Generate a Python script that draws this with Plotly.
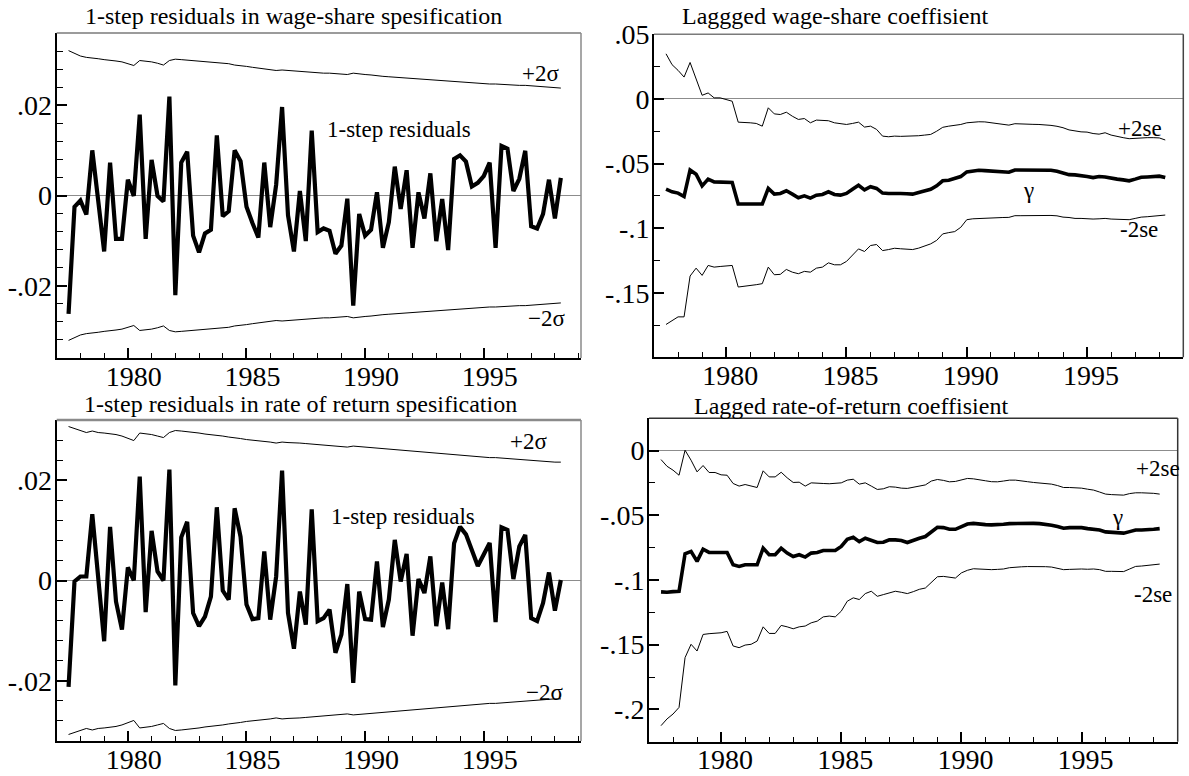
import plotly.graph_objects as go

W, H = 1189, 776
N = 84
# quarterly observations 1977Q3 .. 1998Q2
years = [1977.5 + 0.25 * i for i in range(N)]

# ---- wage-share specification: 1-step residuals and 2*sigma band ----
resid_ws = [-0.0262, -0.0025, -0.0011, -0.0042, 0.0100, -0.0012, -0.0124, 0.0073, -0.0096, -0.0096,
            0.0035, -0.0001, 0.0179, -0.0096, 0.0079, -0.0001, -0.0013, 0.0219, -0.0221, 0.0073,
            0.0097, -0.0089, -0.0126, -0.0084, -0.0076, 0.0133, -0.0046, -0.0035, 0.0100, 0.0076,
            -0.0025, -0.0061, -0.0093, 0.0073, -0.0070, 0.0024, 0.0196, -0.0044, -0.0124, 0.0010,
            -0.0101, 0.0144, -0.0081, -0.0073, -0.0078, -0.0129, -0.0111, -0.0007, -0.0244, -0.0041,
            -0.0089, -0.0076, 0.0007, -0.0116, -0.0059, 0.0064, -0.0030, 0.0056, -0.0116, 0.0007,
            -0.0051, 0.0049, -0.0101, -0.0008, -0.0121, 0.0081, 0.0089, 0.0075, 0.0020, 0.0028,
            0.0043, 0.0073, -0.0116, 0.0110, 0.0104, 0.0010, 0.0037, 0.0099, -0.0068, -0.0073,
            -0.0041, 0.0035, -0.0051, 0.0039]
band_ws = [0.0321, 0.0315, 0.0309, 0.0306, 0.0305, 0.0303, 0.0301, 0.0300, 0.0298, 0.0296,
           0.0292, 0.0288, 0.0299, 0.0298, 0.0296, 0.0293, 0.0289, 0.0299, 0.0302, 0.0301,
           0.0300, 0.0299, 0.0298, 0.0297, 0.0296, 0.0294, 0.0293, 0.0292, 0.0289, 0.0288,
           0.0286, 0.0284, 0.0282, 0.0281, 0.0279, 0.0277, 0.0278, 0.0277, 0.0275, 0.0274,
           0.0273, 0.0273, 0.0272, 0.0271, 0.0271, 0.0270, 0.0269, 0.0268, 0.0271, 0.0269,
           0.0268, 0.0267, 0.0265, 0.0264, 0.0263, 0.0262, 0.0261, 0.0260, 0.0259, 0.0258,
           0.0257, 0.0256, 0.0255, 0.0254, 0.0254, 0.0253, 0.0252, 0.0251, 0.0250, 0.0249,
           0.0248, 0.0247, 0.0247, 0.0246, 0.0246, 0.0245, 0.0244, 0.0244, 0.0243, 0.0242,
           0.0241, 0.0240, 0.0239, 0.0238]

# ---- rate-of-return specification: 1-step residuals and 2*sigma band ----
resid_rr = [-0.0212, -0.0002, 0.0008, 0.0008, 0.0132, 0.0015, -0.0121, 0.0107, -0.0042, -0.0098,
            0.0026, 0.0000, 0.0207, -0.0063, 0.0099, 0.0018, 0.0000, 0.0221, -0.0209, 0.0086,
            0.0117, -0.0065, -0.0091, -0.0072, -0.0032, 0.0146, -0.0020, -0.0038, 0.0144, 0.0087,
            -0.0048, -0.0077, -0.0075, 0.0058, -0.0078, 0.0008, 0.0219, -0.0065, -0.0136, -0.0022,
            -0.0088, 0.0142, -0.0081, -0.0075, -0.0058, -0.0144, -0.0108, -0.0007, -0.0204, -0.0022,
            -0.0077, -0.0078, 0.0038, -0.0093, -0.0038, 0.0081, -0.0002, 0.0053, -0.0110, 0.0003,
            -0.0025, 0.0048, -0.0091, -0.0004, -0.0097, 0.0074, 0.0107, 0.0092, 0.0062, 0.0029,
            0.0052, 0.0075, -0.0083, 0.0106, 0.0101, 0.0003, 0.0068, 0.0091, -0.0075, -0.0081,
            -0.0045, 0.0016, -0.0060, 0.0001]
band_rr = [0.0307, 0.0303, 0.0299, 0.0295, 0.0298, 0.0295, 0.0294, 0.0293, 0.0291, 0.0288,
           0.0284, 0.0279, 0.0294, 0.0293, 0.0291, 0.0288, 0.0285, 0.0295, 0.0299, 0.0298,
           0.0297, 0.0296, 0.0294, 0.0292, 0.0291, 0.0289, 0.0288, 0.0286, 0.0285, 0.0283,
           0.0281, 0.0280, 0.0279, 0.0278, 0.0276, 0.0274, 0.0276, 0.0275, 0.0275, 0.0274,
           0.0273, 0.0272, 0.0271, 0.0270, 0.0270, 0.0269, 0.0268, 0.0266, 0.0268, 0.0267,
           0.0266, 0.0265, 0.0264, 0.0263, 0.0261, 0.0260, 0.0259, 0.0258, 0.0257, 0.0256,
           0.0255, 0.0254, 0.0253, 0.0252, 0.0251, 0.0250, 0.0249, 0.0249, 0.0248, 0.0247,
           0.0246, 0.0245, 0.0245, 0.0244, 0.0243, 0.0242, 0.0241, 0.0240, 0.0239, 0.0239,
           0.0238, 0.0237, 0.0236, 0.0236]

# ---- lagged wage-share coefficient (recursive) with +/-2se ----
gamma_ws = [-0.0699, -0.0719, -0.0729, -0.0755, -0.0550, -0.0583, -0.0673, -0.0621, -0.0642, -0.0642,
            -0.0645, -0.0647, -0.0814, -0.0814, -0.0814, -0.0814, -0.0814, -0.0693, -0.0737, -0.0732,
            -0.0711, -0.0737, -0.0765, -0.0750, -0.0768, -0.0745, -0.0740, -0.0719, -0.0740, -0.0745,
            -0.0732, -0.0699, -0.0668, -0.0704, -0.0680, -0.0693, -0.0729, -0.0732, -0.0729, -0.0732,
            -0.0734, -0.0737, -0.0724, -0.0714, -0.0699, -0.0673, -0.0634, -0.0629, -0.0616, -0.0601,
            -0.0565, -0.0555, -0.0552, -0.0555, -0.0557, -0.0560, -0.0565, -0.0568, -0.0550, -0.0550,
            -0.0547, -0.0550, -0.0550, -0.0550, -0.0552, -0.0560, -0.0575, -0.0586, -0.0588, -0.0591,
            -0.0601, -0.0609, -0.0601, -0.0604, -0.0616, -0.0621, -0.0627, -0.0634, -0.0621, -0.0606,
            -0.0604, -0.0604, -0.0598, -0.0609]
up_ws = [0.0349, 0.0265, 0.0221, 0.0169, 0.0282, 0.0149, 0.0028, 0.0046, 0.0008, 0.0008,
         -0.0005, -0.0018, -0.0180, -0.0180, -0.0185, -0.0190, -0.0211, -0.0069, -0.0116, -0.0121,
         -0.0103, -0.0134, -0.0159, -0.0152, -0.0185, -0.0164, -0.0164, -0.0169, -0.0185, -0.0190,
         -0.0198, -0.0190, -0.0180, -0.0218, -0.0211, -0.0236, -0.0288, -0.0293, -0.0288, -0.0290,
         -0.0290, -0.0288, -0.0285, -0.0280, -0.0275, -0.0250, -0.0220, -0.0211, -0.0205, -0.0198,
         -0.0185, -0.0180, -0.0177, -0.0178, -0.0185, -0.0190, -0.0195, -0.0203, -0.0192, -0.0192,
         -0.0195, -0.0197, -0.0198, -0.0200, -0.0205, -0.0212, -0.0223, -0.0240, -0.0249, -0.0255,
         -0.0257, -0.0268, -0.0273, -0.0262, -0.0280, -0.0293, -0.0300, -0.0308, -0.0305, -0.0300,
         -0.0300, -0.0300, -0.0302, -0.0318]
lo_ws = [-0.1746, -0.1713, -0.1687, -0.1687, -0.1371, -0.1310, -0.1366, -0.1289, -0.1302, -0.1297,
         -0.1294, -0.1289, -0.1456, -0.1451, -0.1443, -0.1438, -0.1430, -0.1302, -0.1361, -0.1358,
         -0.1320, -0.1341, -0.1353, -0.1335, -0.1341, -0.1310, -0.1302, -0.1269, -0.1284, -0.1284,
         -0.1258, -0.1207, -0.1161, -0.1181, -0.1135, -0.1127, -0.1174, -0.1166, -0.1156, -0.1160,
         -0.1163, -0.1166, -0.1155, -0.1140, -0.1122, -0.1095, -0.1045, -0.1035, -0.1027, -0.0994,
         -0.0935, -0.0928, -0.0925, -0.0922, -0.0920, -0.0919, -0.0918, -0.0917, -0.0904, -0.0904,
         -0.0903, -0.0902, -0.0900, -0.0899, -0.0902, -0.0905, -0.0915, -0.0918, -0.0925, -0.0925,
         -0.0928, -0.0930, -0.0928, -0.0925, -0.0930, -0.0932, -0.0935, -0.0935, -0.0925, -0.0915,
         -0.0912, -0.0909, -0.0905, -0.0899]

# ---- lagged rate-of-return coefficient (recursive) with +/-2se ----
gamma_rr = [-0.1092, -0.1095, -0.1090, -0.1087, -0.0797, -0.0779, -0.0856, -0.0762, -0.0787, -0.0785,
            -0.0787, -0.0787, -0.0882, -0.0895, -0.0882, -0.0882, -0.0882, -0.0754, -0.0805, -0.0805,
            -0.0754, -0.0792, -0.0818, -0.0805, -0.0823, -0.0792, -0.0787, -0.0772, -0.0772, -0.0772,
            -0.0741, -0.0685, -0.0669, -0.0703, -0.0677, -0.0690, -0.0710, -0.0708, -0.0690, -0.0690,
            -0.0695, -0.0710, -0.0690, -0.0677, -0.0664, -0.0626, -0.0592, -0.0595, -0.0608, -0.0608,
            -0.0587, -0.0567, -0.0562, -0.0569, -0.0572, -0.0574, -0.0574, -0.0569, -0.0564, -0.0562,
            -0.0562, -0.0562, -0.0562, -0.0564, -0.0569, -0.0577, -0.0587, -0.0600, -0.0595, -0.0592,
            -0.0595, -0.0603, -0.0608, -0.0613, -0.0628, -0.0633, -0.0633, -0.0638, -0.0626, -0.0613,
            -0.0613, -0.0613, -0.0608, -0.0603]
up_rr = [-0.0069, -0.0121, -0.0151, -0.0190, 0.0003, -0.0074, -0.0164, -0.0115, -0.0169, -0.0169,
         -0.0187, -0.0190, -0.0254, -0.0274, -0.0262, -0.0272, -0.0285, -0.0156, -0.0203, -0.0203,
         -0.0167, -0.0210, -0.0246, -0.0244, -0.0274, -0.0249, -0.0254, -0.0254, -0.0256, -0.0254,
         -0.0249, -0.0228, -0.0221, -0.0259, -0.0249, -0.0274, -0.0300, -0.0295, -0.0279, -0.0282,
         -0.0290, -0.0292, -0.0283, -0.0279, -0.0265, -0.0235, -0.0223, -0.0230, -0.0241, -0.0238,
         -0.0225, -0.0215, -0.0218, -0.0228, -0.0233, -0.0240, -0.0241, -0.0235, -0.0228, -0.0228,
         -0.0232, -0.0240, -0.0246, -0.0249, -0.0254, -0.0259, -0.0270, -0.0285, -0.0285, -0.0285,
         -0.0290, -0.0298, -0.0305, -0.0320, -0.0336, -0.0340, -0.0344, -0.0344, -0.0332, -0.0326,
         -0.0326, -0.0326, -0.0330, -0.0336]
lo_rr = [-0.2126, -0.2074, -0.2036, -0.1985, -0.1600, -0.1497, -0.1549, -0.1421, -0.1415, -0.1412,
         -0.1408, -0.1397, -0.1510, -0.1523, -0.1503, -0.1497, -0.1472, -0.1362, -0.1413, -0.1413,
         -0.1351, -0.1362, -0.1377, -0.1362, -0.1356, -0.1331, -0.1318, -0.1285, -0.1279, -0.1285,
         -0.1241, -0.1164, -0.1138, -0.1151, -0.1105, -0.1087, -0.1126, -0.1113, -0.1100, -0.1087,
         -0.1095, -0.1105, -0.1090, -0.1072, -0.1062, -0.1020, -0.0975, -0.0972, -0.0980, -0.0985,
         -0.0945, -0.0925, -0.0913, -0.0915, -0.0920, -0.0920, -0.0918, -0.0915, -0.0905, -0.0900,
         -0.0898, -0.0896, -0.0895, -0.0895, -0.0897, -0.0900, -0.0910, -0.0920, -0.0918, -0.0915,
         -0.0915, -0.0917, -0.0915, -0.0920, -0.0933, -0.0933, -0.0933, -0.0935, -0.0915, -0.0895,
         -0.0892, -0.0888, -0.0882, -0.0877]

# ---- tick labels ----
x_ticks = [1980, 1985, 1990, 1995]
x_ticktext = ["1980", "1985", "1990", "1995"]
res_ticks = [-0.02, 0.0, 0.02]
res_ticktext = ["-.02", "0", ".02"]
ws_ticks = [-0.15, -0.1, -0.05, 0.0, 0.05]
ws_ticktext = ["-.15", "-.1", "-.05", "0", ".05"]
rr_ticks = [-0.2, -0.15, -0.1, -0.05, 0.0]
rr_ticktext = ["-.2", "-.15", "-.1", "-.05", "0"]

titles = ["1-step residuals in wage-share spesification",
          "Laggged wage-share coeffisient",
          "1-step residuals in rate of return spesification",
          "Lagged rate-of-return coeffisient"]

FONT = "Liberation Serif, Times New Roman, serif"
neg_band_ws = [-v for v in band_ws]
neg_band_rr = [-v for v in band_rr]

fig = go.Figure()


def line(y, ax, width, color="black"):
    xa, ya = ax
    fig.add_trace(go.Scatter(x=years, y=y, mode="lines", xaxis=xa, yaxis=ya,
                             line=dict(color=color, width=width), showlegend=False,
                             hoverinfo="skip"))


line(band_ws, ("x", "y"), 1)
line(neg_band_ws, ("x", "y"), 1)
line(resid_ws, ("x", "y"), 4.2)
line(up_ws, ("x2", "y2"), 1)
line(lo_ws, ("x2", "y2"), 1)
line(gamma_ws, ("x2", "y2"), 3.6)
line(band_rr, ("x3", "y3"), 1)
line(neg_band_rr, ("x3", "y3"), 1)
line(resid_rr, ("x3", "y3"), 4.2)
line(up_rr, ("x4", "y4"), 1)
line(lo_rr, ("x4", "y4"), 1)
line(gamma_rr, ("x4", "y4"), 3.6)


def px_dom(x0, x1, y0, y1):
    return [x0 / W, x1 / W], [1 - y1 / H, 1 - y0 / H]


panels = {
    1: px_dom(56.7, 581, 33, 358),
    2: px_dom(654, 1183.3, 34.3, 357.3),
    3: px_dom(56.7, 581, 420, 741),
    4: px_dom(649, 1177.7, 418.3, 741.7),
}
yranges = {1: [-0.036, 0.036], 2: [-0.2, 0.05], 3: [-0.032, 0.032], 4: [-0.225, 0.025]}
xranges = {1: [1977, 1999.1], 2: [1977, 1999], 3: [1977, 1999.1], 4: [1977, 1999]}
yticks = {1: (res_ticks, res_ticktext), 2: (ws_ticks, ws_ticktext),
          3: (res_ticks, res_ticktext), 4: (rr_ticks, rr_ticktext)}
yminor = {1: 0.004, 2: 0.025, 3: 0.004, 4: 0.025}
xshift = {1: 6, 2: 4, 3: 6, 4: 4}
top_border = {1: ("#7a7a7a", 1.5), 2: ("#7a7a7a", 1.5), 3: ("#8a8a8a", 2.5), 4: ("#333333", 1.5)}
right_border = {1: ("#8a8a8a", 1.5), 2: ("#444444", 1.5), 3: ("#8a8a8a", 1.5), 4: ("#333333", 1.5)}

layout = dict(template="none", width=W, height=H, margin=dict(l=0, r=0, t=0, b=0, pad=0),
              plot_bgcolor="white", paper_bgcolor="white", showlegend=False,
              font=dict(family=FONT, color="black"))
shapes = []
for k in range(1, 5):
    xd, yd = panels[k]
    sfx = "" if k == 1 else str(k)
    layout["xaxis" + sfx] = dict(
        domain=xd, range=xranges[k], anchor="y" + sfx, showgrid=False, zeroline=False,
        automargin=False,
        showline=True, linecolor="black", linewidth=2,
        ticks="inside", ticklen=10, tickwidth=1.5, tickcolor="black",
        tickmode="array", tickvals=x_ticks, ticktext=x_ticktext,
        ticklabelshift=xshift[k], ticklabelstandoff=-8,
        minor=dict(ticks="inside", ticklen=5, tickwidth=1, tickcolor="black",
                   tick0=1977, dtick=1, showgrid=False),
        tickfont=dict(family=FONT, size=28, color="black"))
    tv, tt = yticks[k]
    layout["yaxis" + sfx] = dict(
        domain=yd, range=yranges[k], anchor="x" + sfx, showgrid=False,
        automargin=False,
        zeroline=True, zerolinecolor="#8c8c8c", zerolinewidth=1,
        showline=True, linecolor="black", linewidth=2,
        ticks="inside", ticklen=10, tickwidth=1.5, tickcolor="black",
        tickmode="array", tickvals=tv, ticktext=tt, ticklabelstandoff=-3,
        minor=dict(ticks="inside", ticklen=6, tickwidth=1, tickcolor="black",
                   tick0=0, dtick=yminor[k], showgrid=False),
        tickfont=dict(family=FONT, size=28, color="black"))
    xr = "x" + sfx + " domain"
    yr = "y" + sfx + " domain"
    tc, tw = top_border[k]
    shapes.append(dict(type="line", xref=xr, yref=yr, x0=0, x1=1, y0=1, y1=1,
                       line=dict(color=tc, width=tw)))
    rc, rw = right_border[k]
    shapes.append(dict(type="line", xref=xr, yref=yr, x0=1, x1=1, y0=0, y1=1,
                       line=dict(color=rc, width=rw)))
layout["shapes"] = shapes

anns = []


def note(text, x, y, size=23, anchor="center"):
    anns.append(dict(text=text, x=x / W, y=1 - y / H, xref="paper", yref="paper",
                     xanchor=anchor, yanchor="middle", showarrow=False, borderpad=0,
                     font=dict(family=FONT, size=size, color="black")))


note(titles[0], 84, 16, 24, "left")
note(titles[1], 680.5, 16, 24, "left")
note(titles[2], 82.5, 404, 24, "left")
note(titles[3], 693, 406, 24, "left")

note("+2σ", 540, 73)
note("−2σ", 546, 318)
note("1-step residuals", 399, 130)
note("+2σ", 528, 441)
note("−2σ", 544, 692)
note("1-step residuals", 403, 516)
note("+2se", 1140, 129)
note("γ", 1028, 190)
note("-2se", 1139, 229)
note("+2se", 1158, 468)
note("γ", 1117, 517)
note("-2se", 1153, 594)
layout["annotations"] = anns

fig.update_layout(**layout)
fig.write_html("out.html", config={"displayModeBar": False},
               post_script="document.body.style.margin='0px';document.body.style.overflow='hidden';")
